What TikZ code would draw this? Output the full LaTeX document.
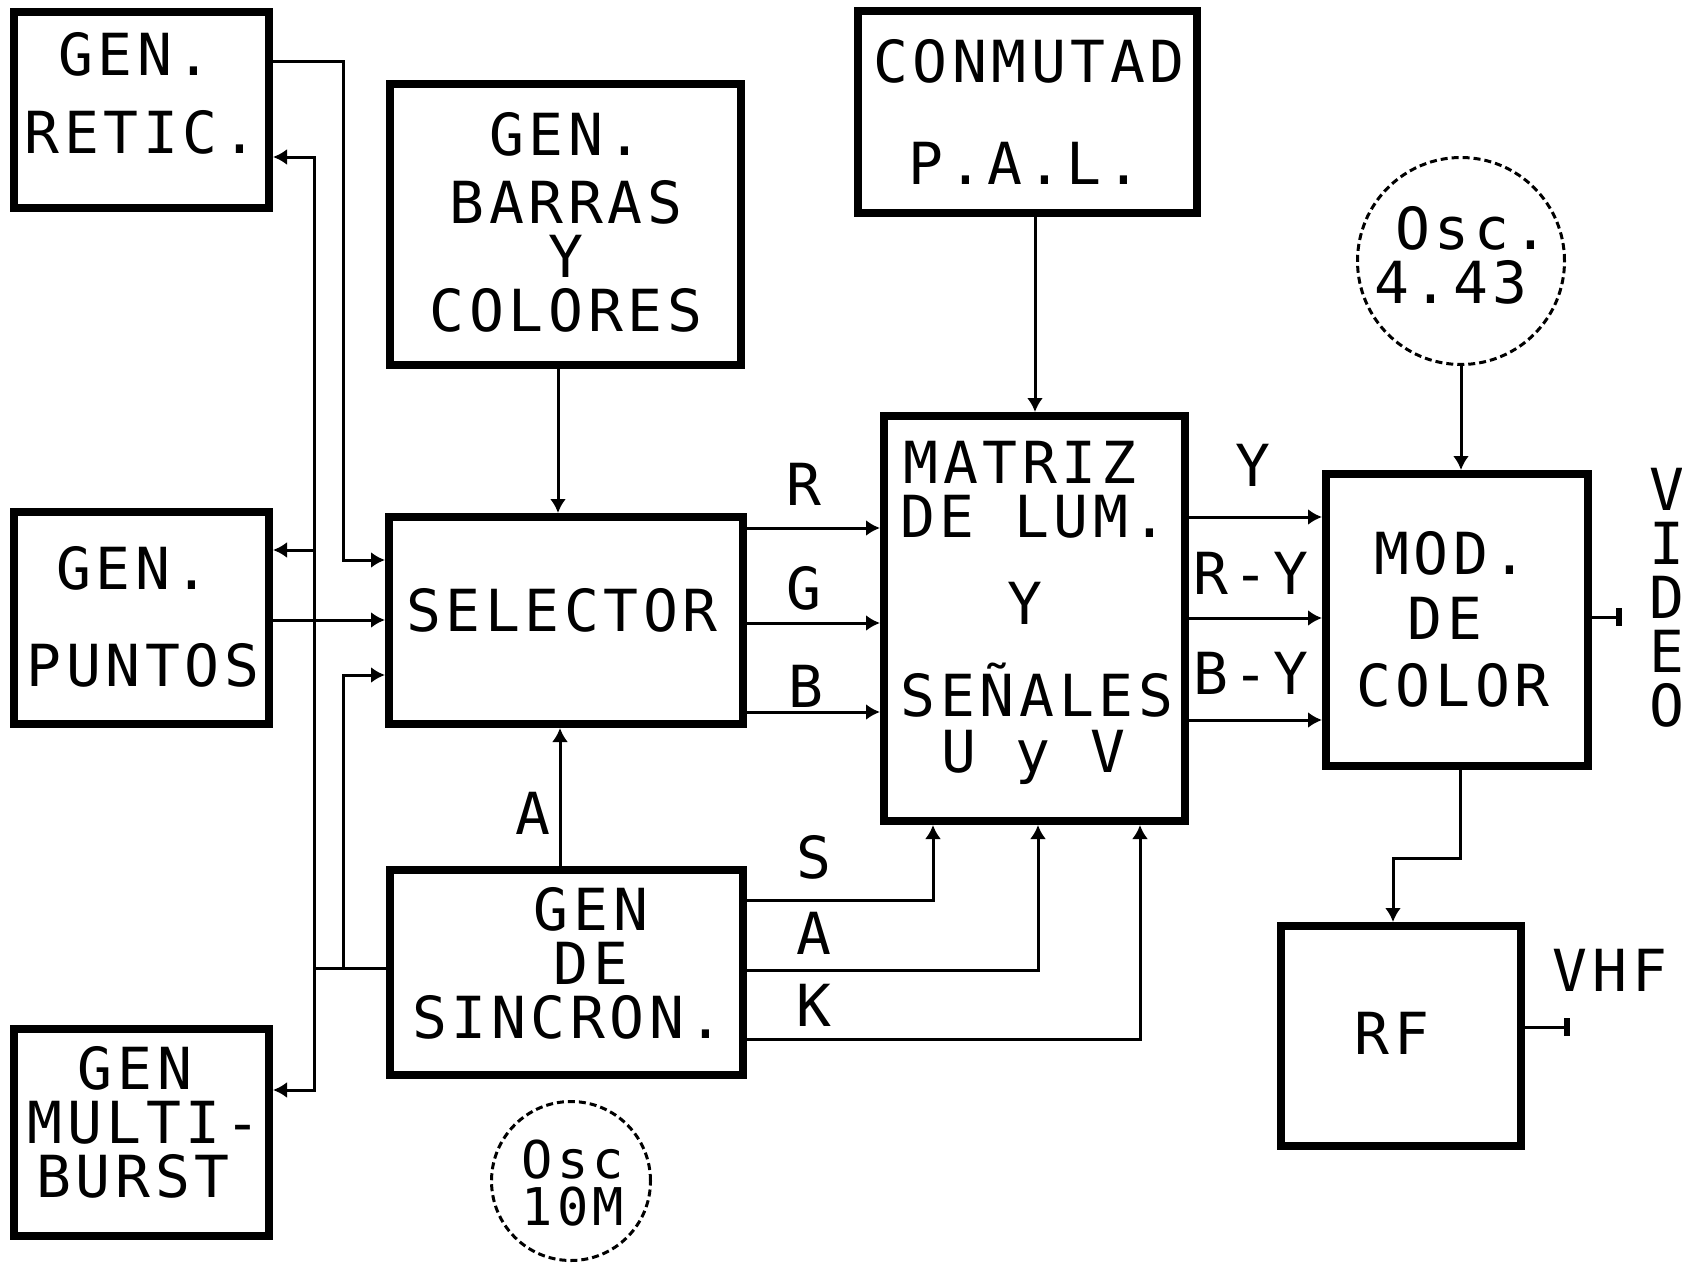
\documentclass[tikz,border=0pt]{standalone}
\usepackage{fontspec}
\newfontfamily\dotfont[LetterSpace=8]{DejaVu Sans Mono}
\usetikzlibrary{arrows.meta}
\begin{document}
\begin{tikzpicture}[x=1pt,y=-1pt,
  box/.style={draw=black, line width=8pt, rectangle, inner sep=0pt},
  osc/.style={draw=black, circle, line width=3pt, dash pattern=on 7pt off 4pt, inner sep=0pt},
  conn/.style={draw=black, line width=3pt},
  arr/.style={conn, -{Latex[length=14pt,width=16pt]}},
  outtip/.style={conn, -{Bar[width=18pt,line width=6pt]}},
  txt/.style={font=\dotfont\fontsize{58}{60}\selectfont, inner sep=0pt, text height=42pt, text depth=0pt},
  mtxt/.style={font=\dotfont\fontsize{58}{54}\selectfont, inner sep=0pt, align=center}
]
\useasboundingbox (0,0) rectangle (1682,1263);

% boxes
\node[box, minimum width=255, minimum height=196] (retic) at (141.5,110) {};
\node[box, minimum width=255, minimum height=212] (puntos) at (141.5,618) {};
\node[box, minimum width=255, minimum height=207] (multi) at (141.5,1132.5) {};
\node[box, minimum width=351, minimum height=281] (barras) at (565.5,224.5) {};
\node[box, minimum width=354, minimum height=207] (selector) at (566,620.5) {};
\node[box, minimum width=353, minimum height=205] (sincron) at (566.5,972.5) {};
\node[box, minimum width=301, minimum height=405] (matriz) at (1034.5,618.5) {};
\node[box, minimum width=339, minimum height=202] (conmut) at (1027.5,112) {};
\node[box, minimum width=262, minimum height=292] (mod) at (1457,620) {};
\node[box, minimum width=240, minimum height=220] (rf) at (1401,1036) {};
\node[osc, minimum size=207] (osc443) at (1461,261) {};
\node[osc, minimum size=159] (osc10) at (571,1181) {};

% texts
\node[txt] (tr1) at (135,55) {GEN.};
\node[txt] (tr2) at (141,132) {RETIC.};
\node[txt] (tp1) at (133,568) {GEN.};
\node[txt] (tp2) at (143,665) {PUNTOS};
\node[txt] (tm1) at (135,1068) {GEN};
\node[txt] (tm2) at (144,1122) {MULTI-};
\node[txt] (tm3) at (133,1176) {BURST};
\node[mtxt] (tb) at (566,222) {GEN.\\[14pt]BARRAS\\Y\\COLORES};
\node[txt] (ts) at (562,610) {SELECTOR};
\node[txt] (tg1) at (591,909) {GEN};
\node[txt] (tg2) at (591,963) {DE};
\node[txt] (tg3) at (568,1017) {SINCRON.};
\node[txt] (tx1) at (1020,462) {MATRIZ};
\node[txt] (tx2) at (1034,516) {DE LUM.};
\node[txt] (tx3) at (1025,603) {Y};
\node[txt] (tx4) at (1037,695) {SEÑALES};
\node[txt] (tx5) at (1033,751) {U y V};
\node[txt] (tc1) at (1029,62) {CONMUTAD};
\node[txt] (tc2) at (1025,163) {P.A.L.};
\node[txt] (to1) at (1472,228) {Osc.};
\node[txt] (to2) at (1451,282) {4.43};
\node[font=\dotfont\fontsize{52}{47}\selectfont, inner sep=0pt, align=center] (to3) at (573,1183) {Osc\\10M};
\node[txt] (td1) at (1451,553) {MOD.};
\node[txt] (td2) at (1445,618) {DE};
\node[txt] (td3) at (1453,685) {COLOR};
\node[txt] (tf) at (1392,1033) {RF};
\node[txt] (tvhf) at (1610,970) {VHF};
\node[font=\dotfont\fontsize{58}{54}\selectfont, inner sep=0pt, align=center] (tv) at (1667,598) {V\\I\\D\\E\\O};
% connector labels
\node[txt] (lR) at (804,484) {R};
\node[txt] (lG) at (804,588) {G};
\node[txt] (lB) at (806,686) {B};
\node[txt] (lA1) at (533,813) {A};
\node[txt] (lS) at (814,857) {S};
\node[txt] (lA2) at (814,933) {A};
\node[txt] (lK) at (814,1005) {K};
\node[txt] (lY) at (1253,465) {Y};
\node[txt] (lRY) at (1251,573) {R-Y};
\node[txt] (lBY) at (1251,673) {B-Y};

% coordinates
\coordinate (c1) at (343,62);
\coordinate (c2) at (343,560);
\coordinate (j1) at (314,968);
\coordinate (j2) at (343,968);
\coordinate (c3) at (343,675);
\coordinate (b1) at (314,157);
\coordinate (b2) at (314,550);
\coordinate (b3) at (314,1090);
\coordinate (p2) at (0,620);
\coordinate (xb) at (558,0);
\coordinate (xa) at (560,0);
\coordinate (xc) at (1035,0);
\coordinate (yr) at (0,528);
\coordinate (yg) at (0,623);
\coordinate (yb) at (0,712);
\coordinate (ks) at (933,900);
\coordinate (ka) at (1038,970);
\coordinate (kk) at (1140,1039);
\coordinate (my) at (0,517);
\coordinate (mry) at (0,618);
\coordinate (mby) at (0,720);
\coordinate (m1) at (1460,858);
\coordinate (m2) at (1393,858);
\coordinate (vo) at (1622,617);
\coordinate (ro) at (1570,1027);

% connectors
\draw[arr] (retic.east |- c1) -- (c1) -- (c2) -- (selector.west |- c2);
\draw[conn] (sincron.west |- j1) -- (j1);
\draw[arr] (j2) -- (c3) -- (selector.west |- c3);
\draw[arr] (j1) -- (b1) -- (retic.east |- b1);
\draw[arr] (j1) -- (b3) -- (multi.east |- b3);
\draw[arr] (b2) -- (puntos.east |- b2);
\draw[arr] (puntos.east |- p2) -- (selector.west |- p2);
\draw[arr] (barras.south -| xb) -- (selector.north -| xb);
\draw[arr] (sincron.north -| xa) -- (selector.south -| xa);
\draw[arr] (conmut.south -| xc) -- (matriz.north -| xc);
\draw[arr] (selector.east |- yr) -- (matriz.west |- yr);
\draw[arr] (selector.east |- yg) -- (matriz.west |- yg);
\draw[arr] (selector.east |- yb) -- (matriz.west |- yb);
\draw[arr] (sincron.east |- ks) -- (ks) -- (matriz.south -| ks);
\draw[arr] (sincron.east |- ka) -- (ka) -- (matriz.south -| ka);
\draw[arr] (sincron.east |- kk) -- (kk) -- (matriz.south -| kk);
\draw[arr] (matriz.east |- my) -- (mod.west |- my);
\draw[arr] (matriz.east |- mry) -- (mod.west |- mry);
\draw[arr] (matriz.east |- mby) -- (mod.west |- mby);
\draw[arr] (osc443.south) -- (mod.north -| osc443.south);
\draw[arr] (mod.south -| m1) -- (m1) -- (m2) -- (rf.north -| m2);
\draw[outtip] (mod.east |- vo) -- (vo);
\draw[outtip] (rf.east |- ro) -- (ro);
\end{tikzpicture}
\end{document}
